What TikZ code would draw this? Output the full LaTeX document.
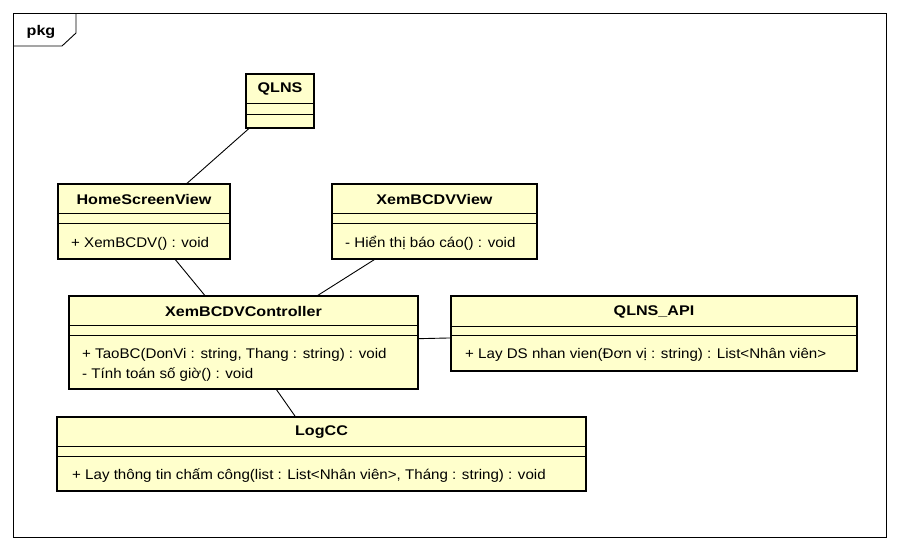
\documentclass[tikz,border=0pt]{standalone}
\usepackage{fontspec}
\setmainfont{Liberation Sans}[FakeStretch=1.08]
\newfontfamily\titlefont{Liberation Sans}[FakeStretch=1.15]
\usetikzlibrary{calc}
\definecolor{clsfill}{RGB}{255,255,204}
\begin{document}
\begin{tikzpicture}[x=1pt,y=-1pt,
  cls/.style={draw=black, line width=2.5pt, fill=clsfill, inner sep=0pt, outer sep=0pt},
  sepline/.style={draw=black, line width=0.9pt},
  ttl/.style={font=\titlefont\bfseries\fontsize{14}{16}\selectfont, inner sep=0pt},
  mth/.style={font=\fontsize{14}{16}\selectfont, inner sep=0pt, anchor=west},
  conn/.style={draw=black, line width=0.9pt},
  frame/.style={draw=black, line width=0.9pt, inner sep=0pt, outer sep=0pt}]
\useasboundingbox (0,0) rectangle (900,550);
\fill[white] (0,0) rectangle (900,550);
% package frame
\node[frame, minimum width=873pt, minimum height=524pt] (pkgframe) at (449.5,275) {};
\draw[frame] (13,46) -- (62,46) -- (76,33) -- (76,13);
\node[ttl] (pkglabel) at (41,32) {pkg};
% classes
\node[cls, minimum width=68pt, minimum height=54pt] (qlns) at (280,101) {};
\node[cls, minimum width=172pt, minimum height=75pt] (home) at (144,221.5) {};
\node[cls, minimum width=205pt, minimum height=75pt] (view) at (434.5,221.5) {};
\node[cls, minimum width=349pt, minimum height=93pt] (ctrl) at (243.5,342.5) {};
\node[cls, minimum width=406pt, minimum height=75pt] (api) at (654,333.5) {};
\node[cls, minimum width=529pt, minimum height=74pt] (logcc) at (321.5,454) {};
% separators
\foreach \c/\a/\b in {qlns/29/40, home/29/39, view/29/39, ctrl/29/39, api/30/39, logcc/29/39}{
  \draw[sepline] ($(\c.north west)+(0,\a)$) -- ($(\c.north east)+(0,\a)$);
  \draw[sepline] ($(\c.north west)+(0,\b)$) -- ($(\c.north east)+(0,\b)$);
}
% titles
\node[ttl] (qlnsT) at (280,89) {QLNS};
\node[ttl] (homeT) at (144,199.5) {HomeScreenView};
\node[ttl] (viewT) at (434.5,199.5) {XemBCDVView};
\node[ttl] (ctrlT) at (243.5,311.5) {XemBCDVController};
\node[ttl] (apiT) at (654,312) {QLNS\_API};
\node[ttl] (logccT) at (321.5,432.5) {LogCC};
% operations
\node[mth] (homeM) at (71,243.5) {+ XemBCDV() : void};
\node[mth] (viewM) at (345,243.5) {- Hiển thị báo cáo() : void};
\node[mth] (ctrlM1) at (82,354.5) {+ TaoBC(DonVi : string, Thang : string) : void};
\node[mth] (ctrlM2) at (82,374.5) {- Tính toán số giờ() : void};
\node[mth] (apiM) at (465,354.5) {+ Lay DS nhan vien(Đơn vị : string) : List<Nhân viên>};
\node[mth] (logccM) at (72,475.5) {+ Lay thông tin chấm công(list : List<Nhân viên>, Tháng : string) : void};
% connectors
\draw[conn] (qlns) -- (home);
\draw[conn] (home) -- (ctrl);
\draw[conn] (view) -- (ctrl);
\draw[conn] (ctrl) -- (api);
\draw[conn] (ctrl) -- (logcc);
\end{tikzpicture}
\end{document}
